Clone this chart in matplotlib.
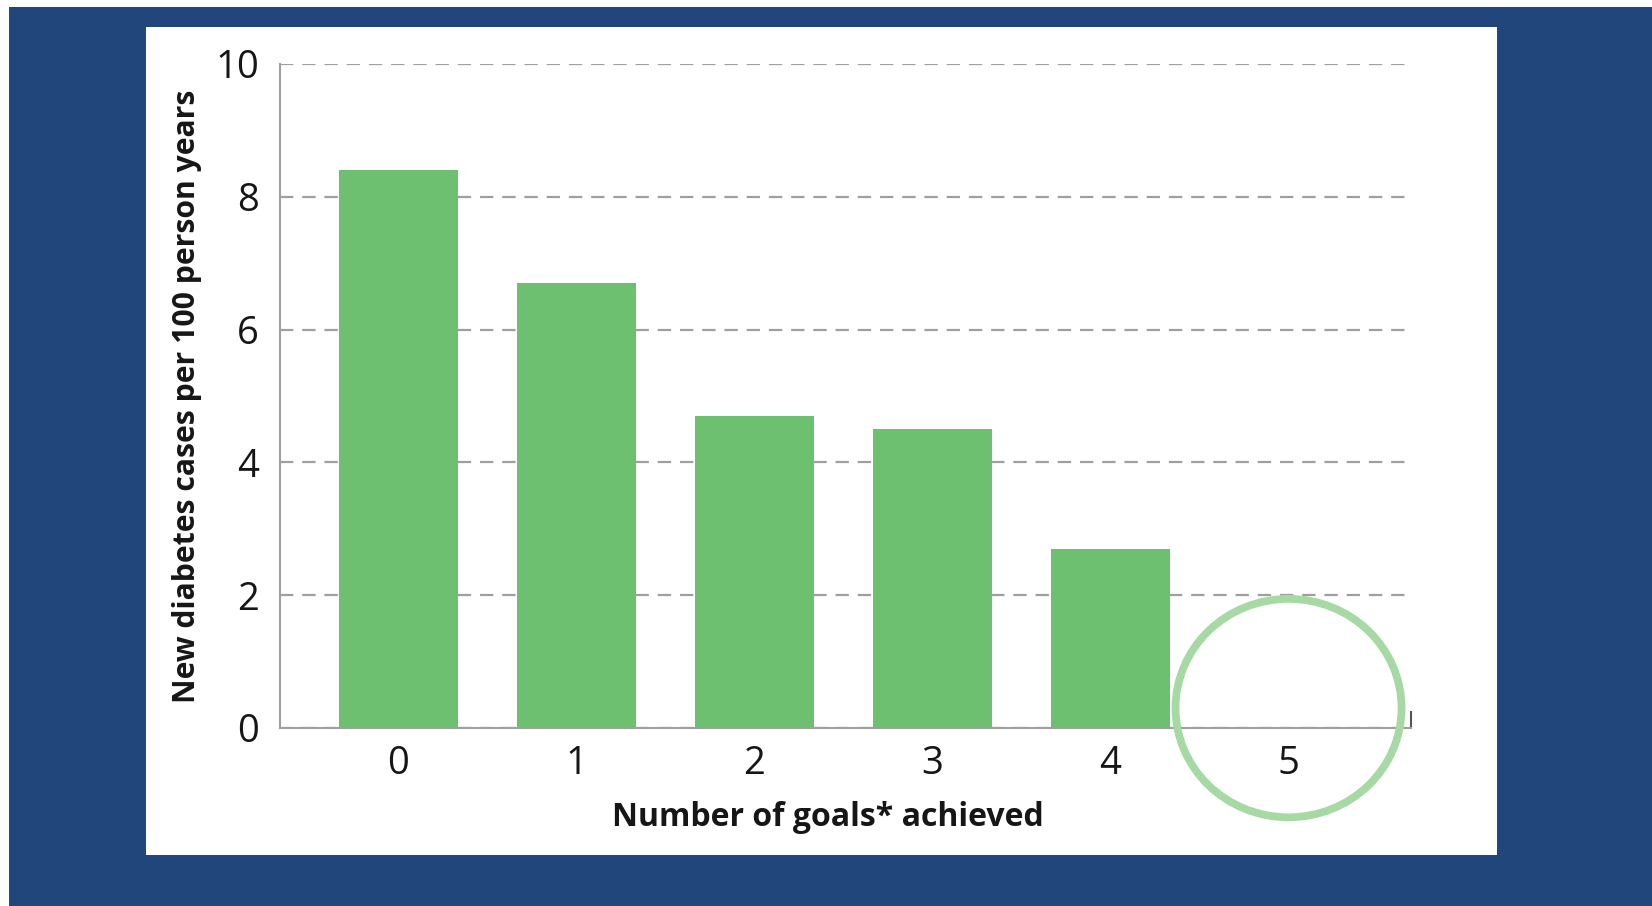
import matplotlib
matplotlib.use("Agg")
import matplotlib.pyplot as plt
from matplotlib.patches import Rectangle, Ellipse

# new diabetes cases per 100 person years, by number of goals achieved
goals = [0, 1, 2, 3, 4, 5]
cases = [8.4, 6.7, 4.7, 4.5, 2.7, 0.0]
y_ticks = [0, 2, 4, 6, 8, 10]

navy = "#21467b"
bar_green = "#6cc070"
ring_green = "#a6d9a3"
grey = "#9f9f9f"
ink = "#161616"

plt.rcParams["font.family"] = ["Open Sans", "DejaVu Sans"]

fig = plt.figure(figsize=(16.52, 9.06), dpi=100)
fig.patch.set_facecolor("white")

# navy panel with a white card on it
fig.add_artist(Rectangle((9 / 1652, 0), 1, 1 - 7 / 906, transform=fig.transFigure,
                         facecolor=navy, edgecolor="none", zorder=-3))
fig.add_artist(Rectangle((146 / 1652, 1 - 855 / 906), (1497 - 146) / 1652, (855 - 27) / 906,
                         transform=fig.transFigure, facecolor="white",
                         edgecolor="none", zorder=-2))

ax = fig.add_axes([280 / 1652, 1 - 728 / 906, (1411 - 280) / 1652, (728 - 64) / 906])
ax.set_facecolor("none")

ax.bar(goals, cases, width=0.67, color=bar_green, zorder=2)

ax.set_xlim(-0.666, 5.688)
ax.set_ylim(0, 10)
ax.set_xticks(goals)
ax.set_yticks(y_ticks)
ax.tick_params(axis="both", length=0, labelsize=27.5, labelcolor=ink)
ax.tick_params(axis="x", pad=12)
ax.tick_params(axis="y", pad=15)

# small end tick at the right of the x axis
ax.set_xticks([5.688], minor=True)
ax.tick_params(axis="x", which="minor", direction="in", length=12, width=1.5,
               color="#555555", labelbottom=False)

ax.yaxis.grid(True, color=grey, linewidth=1.6, linestyle=(0, (6.0, 4.0)), zorder=0)
ax.set_axisbelow(True)

for side in ["top", "right"]:
    ax.spines[side].set_visible(False)
for side in ["left", "bottom"]:
    ax.spines[side].set_color(grey)
    ax.spines[side].set_linewidth(1.5)

ax.set_ylabel("New diabetes cases per 100 person years", fontsize=21.7,
              fontweight="bold", color=ink)
ax.yaxis.set_label_coords(-0.069, 0.5)
ax.set_xlabel("Number of goals* achieved", fontsize=23, fontweight="bold", color=ink)
ax.xaxis.set_label_coords(0.4845, -0.11)

# ring around the "5 goals" column
ax.add_patch(Ellipse((goals[5], 0.3), 1.27, 3.29, facecolor="none",
                     edgecolor=ring_green, linewidth=5.6, clip_on=False, zorder=5))

fig.savefig("out.png", dpi=100, facecolor=fig.get_facecolor())
